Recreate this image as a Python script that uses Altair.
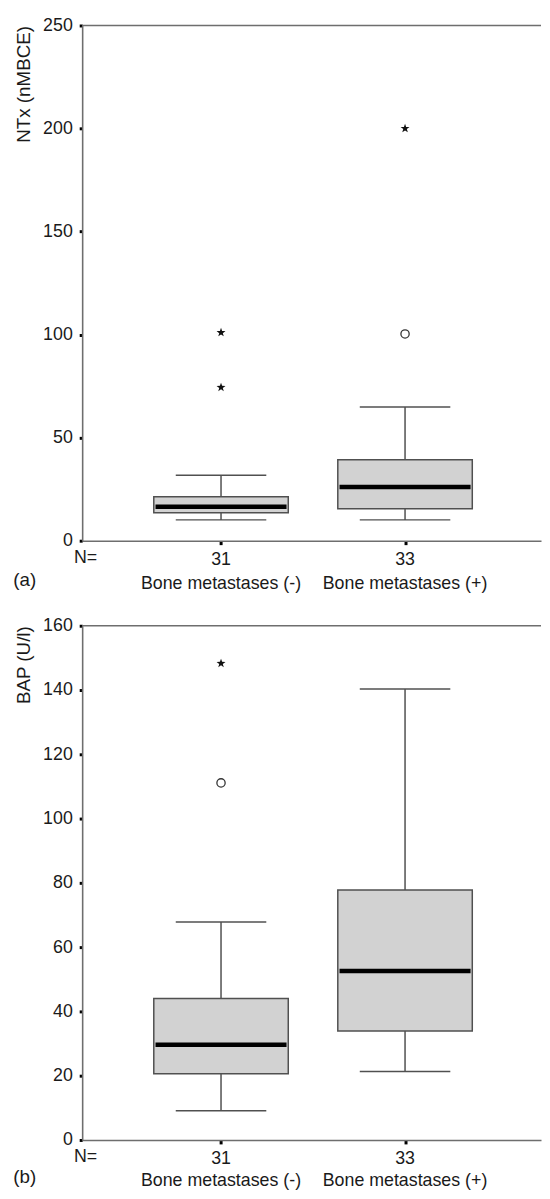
import altair as alt
import pandas as pd

# ---- data ----
groups = [1, 2]
n_labels = ["31", "33"]
group_names = ["Bone metastases (-)", "Bone metastases (+)"]

ntx_low = [10.1, 10.1]
ntx_q1 = [13.6, 15.5]
ntx_med = [16.5, 26.1]
ntx_q3 = [21.3, 39.3]
ntx_high = [31.7, 64.9]
ntx_ext_group = [1, 1, 2]          # extreme values (*)
ntx_ext_value = [74.4, 101.0, 200.0]
ntx_out_group = [2]                # outliers (o)
ntx_out_value = [100.3]

bap_low = [9.1, 21.3]
bap_q1 = [20.6, 33.9]
bap_med = [29.6, 52.6]
bap_q3 = [44.0, 77.8]
bap_high = [67.8, 140.3]
bap_ext_group = [1]
bap_ext_value = [148.3]
bap_out_group = [1]
bap_out_value = [111.1]

ntx_ticks = [0, 50, 100, 150, 200, 250]
bap_ticks = [0, 20, 40, 60, 80, 100, 120, 140, 160]

# ---- styling ----
FONT = "Liberation Sans"
TXT = "#1a1a1a"
AXIS_GRAY = "#6e6e6e"
LINE_GRAY = "#505050"
X0, X1 = 0.2723, 2.712
W = 464
BOX_W = 136
BOX_HALF = 0.356   # half box width in x-scale units
CAP_HALF = 0.246   # half whisker-cap width in x-scale units
STAR = ("M0,-1L0.235,-0.324L0.951,-0.309L0.38,0.124L0.588,0.809L0,0.4"
        "L-0.588,0.809L-0.38,0.124L-0.951,-0.309L-0.235,-0.324Z")


def panel(low, q1, med, q3, high, eg, ev, og, ov, ticks, ytitle, tag, height,
          off1, off2):
    box = pd.DataFrame({"g": groups, "low": low, "q1": q1, "med": med,
                        "q3": q3, "high": high, "n": n_labels, "name": group_names})
    ext = pd.DataFrame({"g": eg, "v": ev})
    out = pd.DataFrame({"g": og, "v": ov})
    frame = pd.DataFrame({"ymax": [ticks[-1]], "n": ["N="], "tag": [tag]})

    xs = alt.Scale(domain=[X0, X1], nice=False, zero=False)
    ys = alt.Scale(domain=[0, ticks[-1]], nice=False)
    xaxis = alt.Axis(values=groups, labels=False, title=None, grid=False,
                     domainColor=AXIS_GRAY, domainWidth=1.6,
                     tickColor="#000000", tickSize=4, tickWidth=3)
    yaxis = alt.Axis(values=ticks, grid=False, domainColor=AXIS_GRAY, domainWidth=1.6,
                     tickColor="#000000", tickSize=3, tickWidth=3,
                     labelFont=FONT, labelFontSize=18, labelColor=TXT, labelPadding=7,
                     title=ytitle, titleFont=FONT, titleFontSize=19,
                     titleFontWeight="normal", titleColor=TXT,
                     titleAnchor="end", titlePadding=9)

    def X(field="g"):
        return alt.X(f"{field}:Q", scale=xs, axis=xaxis)

    def Y(field):
        return alt.Y(f"{field}:Q", scale=ys, axis=yaxis)

    base = alt.Chart(box)
    whisk = base.mark_rule(color=LINE_GRAY, strokeWidth=1.5).encode(
        x=X(), y=Y("low"), y2="high:Q")
    caps = base.transform_calculate(
        xl=f"datum.g - {CAP_HALF}", xr=f"datum.g + {CAP_HALF}"
    ).transform_fold(["low", "high"], as_=["which", "val"]).mark_rule(
        color=LINE_GRAY, strokeWidth=1.5
    ).encode(x=X("xl"), x2="xr:Q", y=Y("val"))
    boxes = base.mark_bar(size=BOX_W, fill="#d2d2d2", stroke=LINE_GRAY,
                          strokeWidth=1.5).encode(x=X(), y=Y("q1"), y2="q3:Q")
    medians = base.transform_calculate(
        xl=f"datum.g - {BOX_HALF}", xr=f"datum.g + {BOX_HALF}"
    ).mark_rule(color="#000000", strokeWidth=4.5).encode(
        x=X("xl"), x2="xr:Q", y=Y("med"))
    stars = alt.Chart(ext).mark_point(
        shape=STAR, filled=True, color="#111111", size=90, opacity=1
    ).encode(x=X(), y=Y("v"))
    circles = alt.Chart(out).mark_point(
        shape="circle", filled=False, color="#333333", strokeWidth=1.3, size=70, opacity=1
    ).encode(x=X(), y=Y("v"))
    border = alt.Chart(frame).mark_rule(color=AXIS_GRAY, strokeWidth=1.6).encode(
        y=Y("ymax"))

    txt = dict(font=FONT, fontSize=18, color=TXT, baseline="alphabetic", align="center")
    counts = base.mark_text(**txt).encode(x=X(), y=alt.value(height + off1), text="n:N")
    names = base.mark_text(**txt).encode(x=X(), y=alt.value(height + off2), text="name:N")
    n_eq = alt.Chart(frame).mark_text(**txt).encode(
        x=alt.value(3.5), y=alt.value(height + off1 - 2), text="n:N")
    tag_t = alt.Chart(frame).mark_text(font=FONT, fontSize=19, color=TXT,
                                       baseline="alphabetic", align="center").encode(
        x=alt.value(-58), y=alt.value(height + off2 - 3), text="tag:N")

    return alt.layer(whisk, caps, boxes, medians, stars, circles, border,
                     counts, names, n_eq, tag_t).properties(
        width=W, height=height,
        view=alt.ViewBackground(strokeOpacity=0))


top = panel(ntx_low, ntx_q1, ntx_med, ntx_q3, ntx_high,
            ntx_ext_group, ntx_ext_value, ntx_out_group, ntx_out_value,
            ntx_ticks, "NTx (nMBCE)", "(a)", 521, 25, 49)
bottom = panel(bap_low, bap_q1, bap_med, bap_q3, bap_high,
               bap_ext_group, bap_ext_value, bap_out_group, bap_out_value,
               bap_ticks, "BAP (U/l)", "(b)", 520, 24, 47)

chart = alt.vconcat(top, bottom, spacing=24).properties(
    padding={"left": 5, "top": 2, "right": 0, "bottom": 0}
)

chart.save("out.html", embed_options={"renderer": "svg", "actions": False})
